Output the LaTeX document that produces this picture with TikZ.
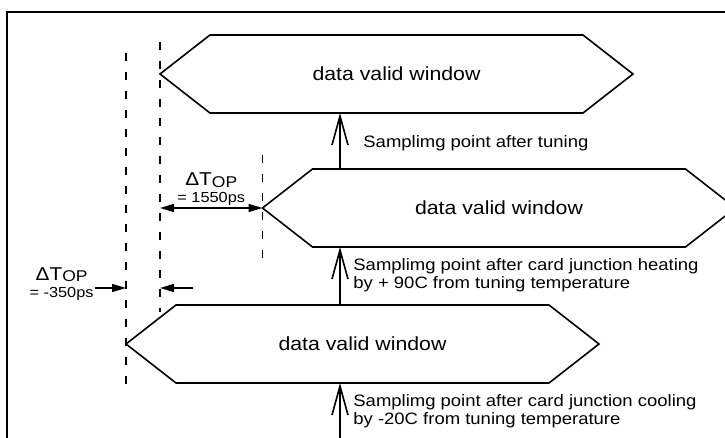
\documentclass[tikz,border=0pt]{standalone}
\usepackage{fontspec}
\setmainfont{Liberation Sans}[FakeStretch=1.12]
\usetikzlibrary{arrows.meta, positioning, calc}
\tikzstyle{window} = [rectangle, minimum width=236.5pt, minimum height=39pt, inner sep=0pt, outer sep=0pt, font=\fontsize{9.5}{12}\selectfont]
\tikzstyle{outline} = [draw=black, line width=0.8pt]
\tikzstyle{guide} = [dash pattern=on 4pt off 5.5pt, line width=0.7pt]
\tikzstyle{sample} = [line width=0.8pt, -{Straight Barb[length=14.5pt,width=8pt]}]
\tikzstyle{dimline} = [line width=0.8pt, >={Triangle[length=7pt,width=4pt]}]
\tikzstyle{note} = [inner sep=0pt, align=left, font=\fontsize{8.25}{9}\selectfont]
\tikzstyle{delta} = [inner sep=0pt, align=center, font=\fontsize{7.3}{8.5}\selectfont]
\newcommand{\dtop}{{\fontsize{9.3}{9}\selectfont ΔT\raisebox{-0.8pt}{\fontsize{7.8}{8}\selectfont OP}}}

\begin{document}
\begin{tikzpicture}[x=0.5pt, y=-0.5pt]

    \useasboundingbox (0,0) rectangle (725,438);
    \clip (0,0) rectangle (725,438);
    \draw [line width=0.6pt] (7,450) |- (740,12);

    % windows
    \node (win1) [window] at (396.5,74) {data valid window};
    \node (win2) [window] at (499,208) {data valid window};
    \node (win3) [window] at (362.5,344) {data valid window};
    \foreach \w in {win1,win2,win3}
        \draw [outline] (\w.west) -- ($(\w.north west)+(25pt,0)$) -- ($(\w.north east)+(-25pt,0)$) -- (\w.east)
            -- ($(\w.south east)+(-25pt,0)$) -- ($(\w.south west)+(25pt,0)$) -- cycle;

    % guide lines
    \draw [guide] (win3.west |- 0,53) -- (win3.west |- 0,387);
    \draw [guide] (win1.west |- 0,42) -- (win1.west |- 0,312);
    \draw [guide] (win2.west |- 0,155) -- (win2.west |- 0,262);

    % sampling points
    \coordinate (samp) at (340,0);
    \draw [sample] (win2.north -| samp) -- (win1.south -| samp);
    \draw [sample] (win3.north -| samp) -- (win2.south -| samp);
    \draw [sample] (samp |- 0,445) -- (win3.south -| samp);

    \node (tuned) [note, anchor=base west] at (363,148) {Samplimg point after tuning};
    \node (heated) [note, anchor=north west] at (353,258) {Samplimg point after card junction heating\\by + 90C from tuning temperature};
    \node (cooled) [note, anchor=north west] at (353,394) {Samplimg point after card junction cooling\\by -20C from tuning temperature};

    % delta T
    \coordinate (posdim) at (win1.west |- win2.west);
    \coordinate (posmid) at ($(posdim)!0.5!(win2.west)$);
    \draw [dimline, <->] (posdim) -- (win2.west);
    \node (pos) [delta, above=1pt of posmid] {\dtop\\= 1550ps};

    \coordinate (negl) at (95,288);
    \coordinate (negr) at (193,288);
    \draw [dimline, ->] (negl) -- (win3.west |- negl);
    \draw [dimline, ->] (negr) -- (win1.west |- negr);
    \node (neg) [delta, anchor=east] at (94,284) {\dtop\\= -350ps};

\end{tikzpicture}
\end{document}
